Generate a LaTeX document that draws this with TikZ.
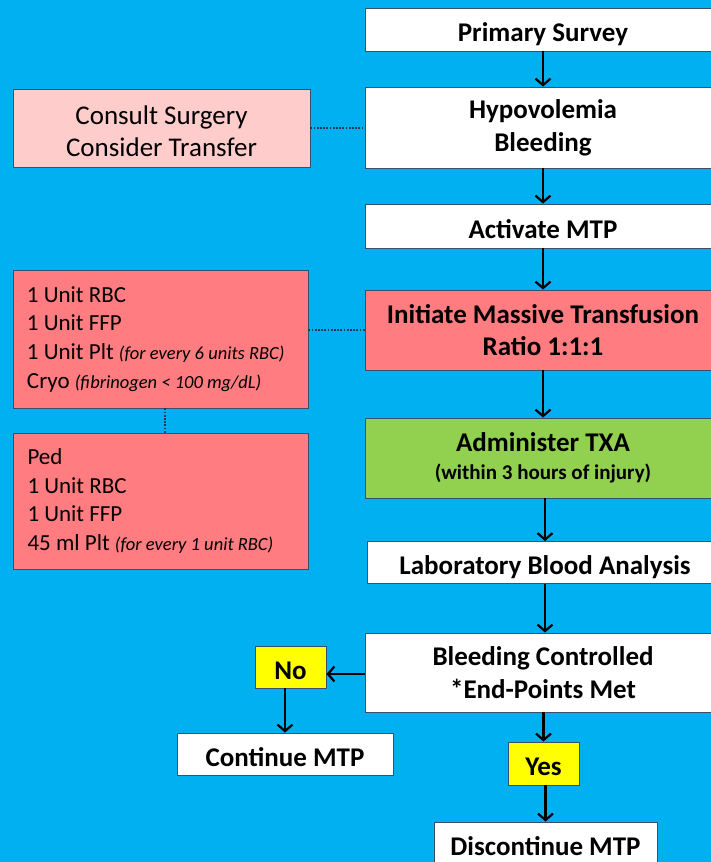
\documentclass[tikz,border=0pt]{standalone}
\usepackage{fontspec}
\setmainfont{Carlito}
\usetikzlibrary{arrows.meta}
\definecolor{bgblue}{HTML}{00B0F0}
\definecolor{boxedge}{HTML}{37506E}
\definecolor{redbox}{HTML}{FF7C80}
\definecolor{pinkbox}{HTML}{FFCCCC}
\definecolor{greenbox}{HTML}{92D050}
\definecolor{yellowbox}{HTML}{FFFF00}
% small italic remarks inside the side boxes
\newcommand{\remark}[1]{{\fontsize{18.5}{20}\selectfont\itshape #1}}
\tikzset{
  box/.style={draw=boxedge, line width=0.9pt, rectangle, inner sep=0pt, align=flush center},
  oneline/.style={text height=24pt, text depth=0pt},
  mainbox/.style={box, fill=white, minimum width=356pt, font=\fontsize{27}{33.5}\selectfont\bfseries},
  sidebox/.style={box, font=\fontsize{23}{28.7}\selectfont, align=flush left, text width=267pt},
  answer/.style={box, oneline, fill=yellowbox, minimum width=71pt, minimum height=42pt, font=\fontsize{27}{30}\selectfont\bfseries},
  endbox/.style={box, oneline, fill=white, minimum height=42pt, font=\fontsize{27}{30}\selectfont\bfseries},
  flow/.style={line width=2.2pt, -{Straight Barb[length=6.5pt, width=15pt, line width=2.2pt]}},
  link/.style={line width=1.8pt, dash pattern=on 1.8pt off 1.4pt, draw=boxedge!70!black}
}
\begin{document}
\begin{tikzpicture}[x=1pt, y=-1pt]
  \path[use as bounding box] (0,0) rectangle (711,862);
  \clip (0,0) rectangle (711,862);
  \fill[bgblue] (0,0) rectangle (711,862);

  % main column
  \node[mainbox, oneline, minimum height=43pt] (ps) at (543,29.5) {Primary Survey};
  \node[mainbox, minimum height=81pt, text height=48pt, text depth=0pt] (hb) at (543,127.5) {Hypovolemia\\Bleeding};
  \node[mainbox, oneline, minimum height=44pt] (am) at (543,226) {Activate MTP};
  \node[mainbox, minimum height=80pt, fill=redbox, font=\fontsize{27}{32}\selectfont\bfseries] (imt) at (543,330) {Initiate Massive Transfusion\\Ratio 1:1:1};
  \node[mainbox, minimum height=80pt, fill=greenbox, font=\fontsize{27}{28}\selectfont\bfseries] (txa) at (543,458) {Administer TXA\\{\fontsize{21}{22}\selectfont(within 3 hours of injury)}};
  \node[mainbox, oneline, minimum height=42pt] (lab) at (545,562.5) {Laboratory Blood Analysis};
  \node[mainbox, minimum height=79pt] (bc) at (543,672.5) {Bleeding Controlled\\*End-Points Met};

  % outcomes
  \node[answer] (no) at (290.5,667) {No};
  \node[endbox, minimum width=216pt] (cont) at (285,754) {Continue MTP};
  \node[answer, minimum height=43pt] (yes) at (543.5,763.5) {Yes};
  \node[endbox, minimum width=223pt, minimum height=43pt] (disc) at (545.5,843.5) {Discontinue MTP};

  % side notes
  \node[box, fill=pinkbox, minimum width=297pt, minimum height=78pt, text height=57pt, text depth=0pt, font=\fontsize{27}{32}\selectfont] (cs) at (161.5,128) {Consult Surgery\\Consider Transfer};
  \node[sidebox, fill=redbox, minimum width=295pt, minimum height=138pt, inner xsep=14pt] (r1) at (160.5,339)
    {1 Unit RBC\\1 Unit FFP\\1 Unit Plt \remark{(for every 6 units RBC)}\\Cryo \remark{(fibrinogen < 100 mg/dL)}};
  \node[sidebox, fill=redbox, minimum width=294pt, minimum height=136pt, inner xsep=14pt] (r2) at (161,501)
    {Ped\\1 Unit RBC\\1 Unit FFP\\45 ml Plt \remark{(for every 1 unit RBC)}};

  % flow arrows
  \draw[flow] (ps) -- (hb);
  \draw[flow] (hb) -- (am);
  \draw[flow] (am) -- (imt);
  \draw[flow] (imt) -- (txa);
  \draw[flow] (txa.south -| lab) -- (lab);
  \draw[flow] (lab) -- (lab.south |- bc.north);
  \draw[flow] ([yshift=-1.5pt]bc.west) -- ([yshift=-1.5pt]bc.west -| no.east);
  \draw[flow] (no.south -| cont) -- (cont);
  \draw[flow] (bc.south -| yes) -- (yes);
  \draw[flow] (yes.south -| disc) -- (disc);

  % dotted links to side notes
  \draw[link] (cs.east) -- (cs.east -| hb.west);
  \draw[link] (imt.west) -- (imt.west -| r1.east);
  \draw[link] ([xshift=4.5pt]r1.south) -- ([xshift=4.5pt]r1.south |- r2.north);
\end{tikzpicture}
\end{document}
